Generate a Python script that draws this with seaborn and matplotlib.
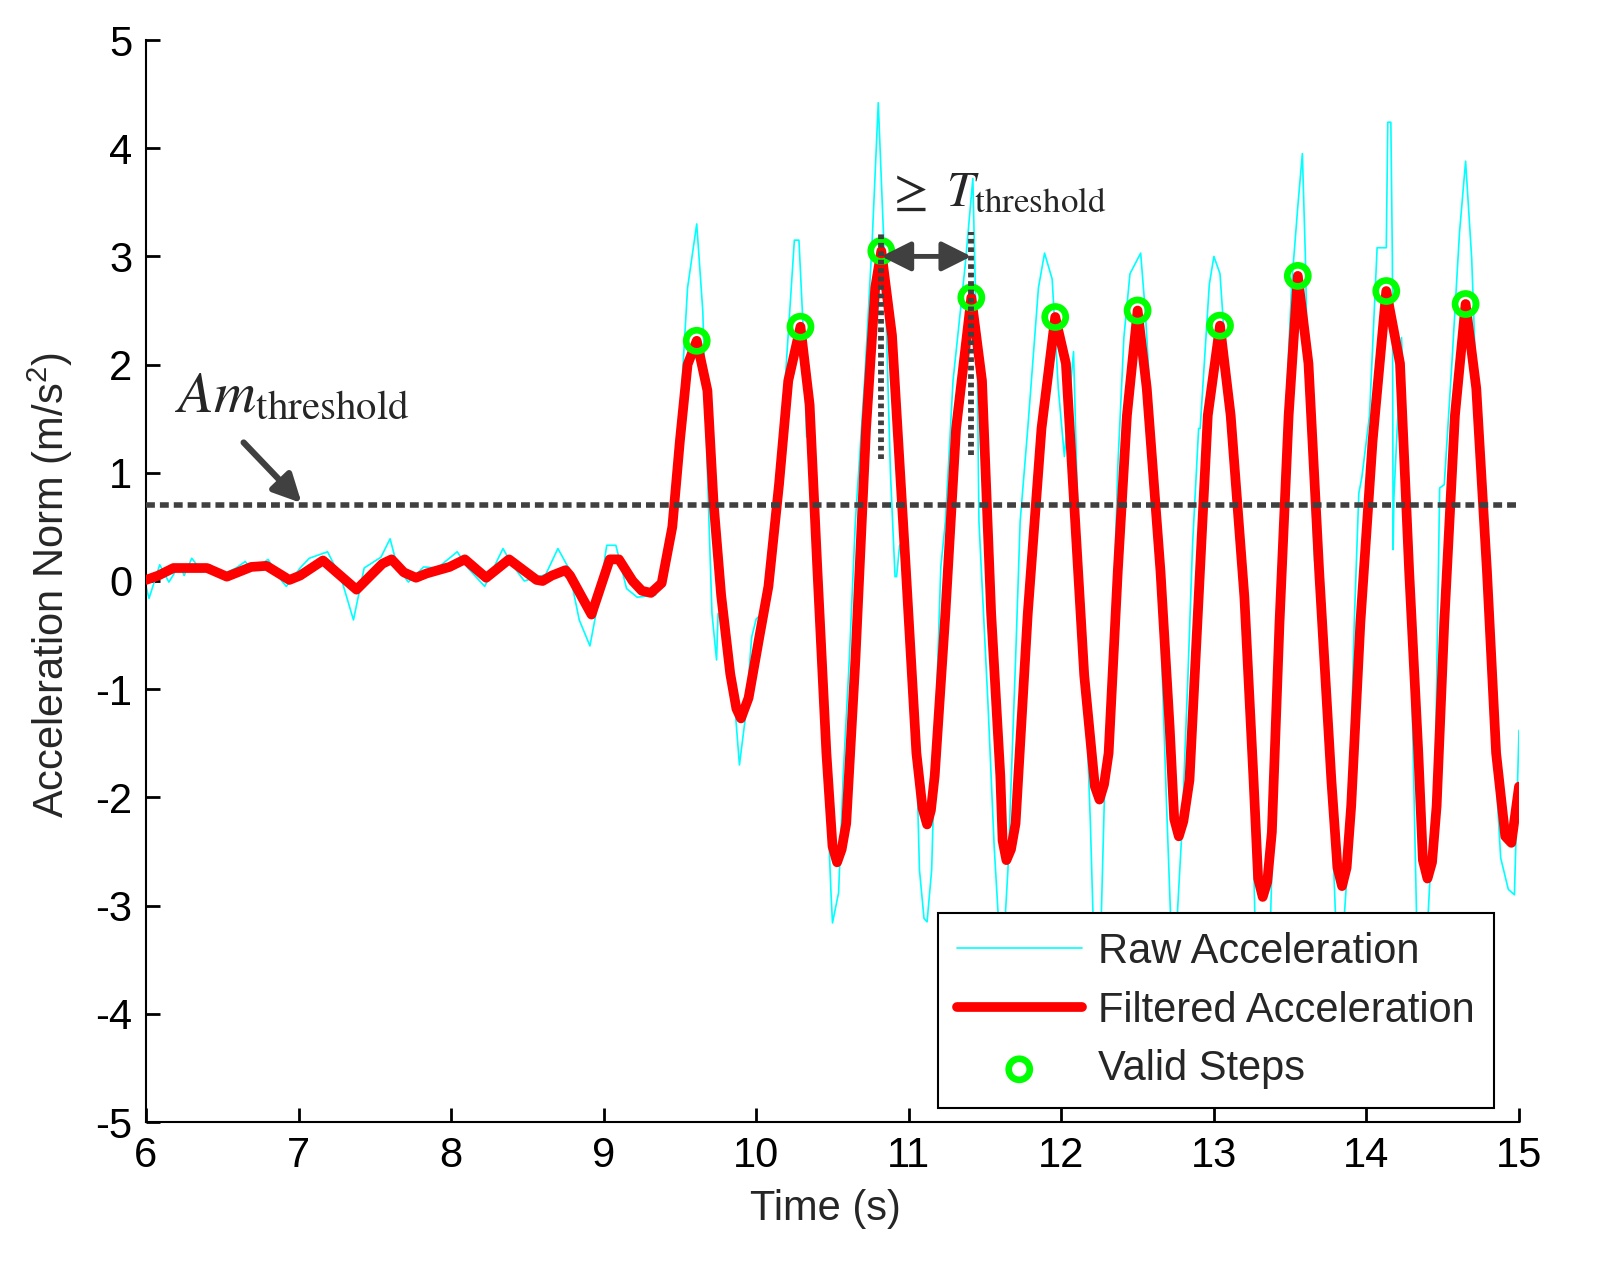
import matplotlib
matplotlib.use("Agg")
import matplotlib.pyplot as plt
import numpy as np
import pandas as pd
import seaborn as sns

# ---------------- data ----------------
filt_t = [6.00, 6.08, 6.18, 6.40, 6.53, 6.69, 6.79, 6.94, 7.01, 7.16, 7.38, 7.55, 7.61, 7.69,
          7.77, 7.84, 7.99, 8.09, 8.23, 8.38, 8.56, 8.60, 8.66, 8.75, 8.78, 8.92, 9.04, 9.10,
          9.19, 9.25, 9.31, 9.38, 9.45, 9.50, 9.55, 9.61, 9.68, 9.72, 9.77, 9.83, 9.87, 9.90, 9.95,
          10.02, 10.08, 10.15, 10.21, 10.29, 10.35, 10.40, 10.46, 10.50, 10.53, 10.56, 10.59, 10.65,
          10.72, 10.78, 10.82, 10.89, 10.98, 11.05, 11.09, 11.12, 11.145, 11.17, 11.24, 11.31,
          11.41, 11.48, 11.54, 11.60, 11.615, 11.64, 11.67, 11.70, 11.78, 11.87, 11.96, 12.03,
          12.09, 12.15, 12.22, 12.25, 12.28, 12.31, 12.37, 12.43, 12.50, 12.56, 12.65, 12.71,
          12.74, 12.77, 12.80, 12.84, 12.90, 12.96, 13.04, 13.11, 13.20, 13.26, 13.29, 13.32,
          13.35, 13.38, 13.43, 13.49, 13.55, 13.62, 13.69, 13.77, 13.81, 13.84, 13.87, 13.90,
          13.96, 14.04, 14.13, 14.22, 14.28, 14.34, 14.37, 14.40, 14.43, 14.46, 14.51, 14.58,
          14.65, 14.72, 14.79, 14.85, 14.91, 14.95, 15.00]
filt_v = [0.01, 0.05, 0.12, 0.12, 0.04, 0.13, 0.14, 0.01, 0.05, 0.19, -0.08, 0.16, 0.20, 0.08,
          0.03, 0.07, 0.13, 0.20, 0.03, 0.20, 0.01, 0.00, 0.05, 0.10, 0.05, -0.31, 0.20, 0.20,
          0.00, -0.09, -0.11, -0.02, 0.50, 1.30, 2.00, 2.22, 1.76, 0.73, -0.13, -0.86, -1.18, -1.27, -1.08,
          -0.52, -0.05, 0.90, 1.85, 2.35, 1.63, 0.13, -1.59, -2.45, -2.60, -2.48, -2.24, -0.73,
          1.41, 2.71, 3.05, 2.27, 0.13, -1.59, -2.10, -2.25, -2.12, -1.80, -0.30, 1.41,
          2.62, 1.85, -0.30, -1.80, -2.40, -2.58, -2.48, -2.24, -0.30, 1.41, 2.44, 2.01,
          0.57, -0.87, -1.90, -2.02, -1.88, -1.59, 0.09, 1.53, 2.50, 1.78, 0.09, -1.35,
          -2.20, -2.36, -2.22, -1.84, -0.15, 1.53, 2.36, 1.53, -0.15, -1.84, -2.75, -2.92,
          -2.78, -2.32, -0.39, 1.53, 2.82, 2.01, 0.09, -1.84, -2.65, -2.82, -2.65, -2.08,
          -0.39, 1.29, 2.68, 2.01, 0.09, -1.59, -2.58, -2.75, -2.60, -2.08, -0.39, 1.53,
          2.56, 1.78, 0.09, -1.59, -2.36, -2.42, -1.90]

raw_t = [6.00, 6.02, 6.09, 6.15, 6.22, 6.25, 6.30, 6.35, 6.42, 6.50, 6.59, 6.65, 6.70, 6.80,
         6.89, 6.92, 7.01, 7.07, 7.19, 7.28, 7.36, 7.43, 7.54, 7.60, 7.65, 7.72, 7.82, 7.91,
         8.04, 8.11, 8.22, 8.34, 8.40, 8.48, 8.55, 8.62, 8.70, 8.77, 8.84, 8.91, 8.97, 9.02,
         9.08, 9.15, 9.22, 9.34, 9.41, 9.47, 9.55, 9.61, 9.65, 9.68, 9.71, 9.74, 9.75, 9.81,
         9.86, 9.89, 9.93, 9.97, 10.00, 10.04, 10.10, 10.15, 10.19, 10.25, 10.28, 10.31, 10.33,
         10.35, 10.38, 10.42, 10.46, 10.49, 10.50, 10.54, 10.57, 10.61, 10.65, 10.71, 10.76,
         10.80, 10.84, 10.88, 10.91, 10.92, 10.94, 10.98, 11.01, 11.05, 11.07, 11.10, 11.12,
         11.15, 11.18, 11.21, 11.24, 11.29, 11.37, 11.42, 11.45, 11.46, 11.49, 11.52, 11.56,
         11.59, 11.62, 11.65, 11.70, 11.73, 11.78, 11.85, 11.89, 11.94, 11.98, 12.02, 12.08,
         12.10, 12.13, 12.14, 12.19, 12.21, 12.24, 12.26, 12.29, 12.34, 12.37, 12.41, 12.45,
         12.52, 12.55, 12.59, 12.65, 12.69, 12.72, 12.75, 12.79, 12.83, 12.86, 12.90, 12.91,
         12.97, 13.00, 13.04, 13.08, 13.10, 13.11, 13.17, 13.22, 13.25, 13.27, 13.32, 13.37,
         13.40, 13.43, 13.47, 13.51, 13.55, 13.58, 13.60, 13.62, 13.66, 13.67, 13.73, 13.77,
         13.80, 13.83, 13.85, 13.88, 13.92, 13.95, 13.97, 14.02, 14.07, 14.13, 14.14, 14.16,
         14.17, 14.175, 14.18, 14.23, 14.25, 14.28, 14.31, 14.33, 14.37, 14.40, 14.45, 14.48,
         14.51, 14.56, 14.61, 14.65, 14.69, 14.72, 14.75, 14.79, 14.84, 14.88, 14.93, 14.97,
         15.00]
raw_v = [-0.05, -0.16, 0.15, -0.01, 0.15, 0.05, 0.21, 0.12, 0.15, 0.06, 0.12, 0.18, 0.10, 0.20,
         0.00, -0.05, 0.12, 0.21, 0.27, 0.02, -0.36, 0.12, 0.22, 0.39, 0.12, -0.01, 0.13, 0.12,
         0.27, 0.12, -0.05, 0.30, 0.15, 0.00, 0.03, 0.06, 0.30, 0.12, -0.36, -0.60, -0.15, 0.33,
         0.33, -0.07, -0.15, -0.13, 0.13, 0.78, 2.71, 3.30, 2.49, 0.99, -0.30, -0.73, -0.30, -0.52,
         -1.16, -1.70, -1.25, -0.52, -0.35, -0.30, 0.13, 0.99, 1.85, 3.15, 3.15, 2.27, 1.33,
         1.33, 0.13, -0.73, -1.80, -2.88, -3.16, -2.88, -1.80, -0.73, 0.55, 1.85, 3.14,
         4.42, 3.00, 0.99, 0.04, 0.04, 0.33, 0.38, -0.30, -1.59, -2.67, -3.12, -3.15,
         -2.67, -1.16, 0.13, 0.55, 1.85, 2.92, 3.72, 1.85, 0.55, -0.30, -1.16, -2.46,
         -3.18, -3.40, -2.67, -0.73, 0.55, 1.41, 2.71, 3.03, 2.79, 1.78, 1.15, 2.12,
         1.05, -0.32, -0.32, -2.22, -3.20, -3.40, -3.20, -1.59, -0.39, 1.05, 2.25, 2.84,
         3.03, 2.50, 1.53, -0.39, -2.08, -3.25, -3.35, -2.32, -0.87, 0.33, 1.41, 1.41,
         2.74, 3.00, 2.84, 2.01, 1.27, 1.27, 0.57, -0.39, -1.84, -3.20, -3.50, -3.20,
         -1.59, 0.09, 1.53, 2.74, 3.46, 3.95, 2.98, 1.53, 0.18, 0.18, -0.87, -2.08,
         -3.20, -3.40, -3.20, -2.56, -0.39, 0.81, 0.96, 1.53, 3.08, 3.08, 4.24, 4.24,
         2.98, 0.29, 0.77, 2.25, 1.53, 0.09, -1.84, -3.20, -3.40, -3.20, -1.84, 0.86,
         0.89, 2.01, 3.22, 3.88, 2.98, 1.78, 1.05, -0.39, -1.59, -2.56, -2.85, -2.90,
         -1.38]

step_t = [9.61, 10.29, 10.82, 11.41, 11.96, 12.50, 13.04, 13.55, 14.13, 14.65]
step_v = [2.22, 2.35, 3.05, 2.62, 2.44, 2.50, 2.36, 2.82, 2.68, 2.56]

am_threshold = 0.7
t_gap = [10.82, 11.41]

xticks = [6, 7, 8, 9, 10, 11, 12, 13, 14, 15]
yticks = [-5, -4, -3, -2, -1, 0, 1, 2, 3, 4, 5]

# ---------------- style ----------------
sns.set_style("ticks")
plt.rcParams["font.family"] = ["Liberation Sans", "DejaVu Sans"]
plt.rcParams["axes.unicode_minus"] = False
plt.rcParams["mathtext.fontset"] = "custom"
plt.rcParams["mathtext.rm"] = "Liberation Sans"
plt.rcParams["mathtext.it"] = "Liberation Sans:italic"
plt.rcParams["mathtext.bf"] = "Liberation Sans:bold"

raw_df = pd.DataFrame({"t": raw_t, "v": raw_v})
filt_df = pd.DataFrame({"t": filt_t, "v": filt_v})
step_df = pd.DataFrame({"t": step_t, "v": step_v})

fig = plt.figure(figsize=(16.09, 12.88), dpi=100)
ax = fig.add_axes([146 / 1609, 166 / 1288, 1373 / 1609, 1082 / 1288])

sns.lineplot(data=raw_df, x="t", y="v", ax=ax, color="#00FFFF", linewidth=1.2,
             sort=False, estimator=None, label="Raw Acceleration", zorder=2)
sns.lineplot(data=filt_df, x="t", y="v", ax=ax, color="#FF0000", linewidth=7.0,
             sort=False, estimator=None, label="Filtered Acceleration", zorder=3)
sns.scatterplot(data=step_df, x="t", y="v", ax=ax, marker="o", s=230,
                facecolor="none", edgecolor="#00FF00", linewidth=4.8,
                label="Valid Steps", zorder=4)

gray = "#404040"
ax.axhline(am_threshold, color=gray, linewidth=4.0, linestyle=(0, (1.6, 0.9)),
           dash_capstyle="butt", zorder=6)
for tg, y0, y1 in zip(t_gap, [1.13, 1.16], [3.21, 3.23]):
    ax.plot([tg, tg], [y0, y1], color=gray, linewidth=4.2,
            linestyle=(0, (0.8, 0.65)), dash_capstyle="butt", zorder=6)

ax.annotate("", xy=(t_gap[1], 3.0), xytext=(t_gap[0], 3.0),
            arrowprops=dict(arrowstyle="<|-|>", color=gray, lw=3.5,
                            mutation_scale=45, shrinkA=0, shrinkB=0), zorder=7)
ax.annotate("", xy=(7.02, 0.72), xytext=(6.64, 1.28),
            arrowprops=dict(arrowstyle="-|>", color=gray, lw=4.5,
                            mutation_scale=42, shrinkA=0, shrinkB=0), zorder=7)

ax.text(6.19, 1.56, r"$Am_{\mathrm{threshold}}$", fontsize=42,
        math_fontfamily="stix", ha="left", va="baseline", zorder=8)
ax.text(10.85, 3.47, r"$\geq\ T_{\mathrm{threshold}}$", fontsize=36,
        math_fontfamily="stix", ha="left", va="baseline", zorder=8)

ax.set_xlim(6, 15)
ax.set_ylim(-5, 5)
ax.set_xticks(xticks)
ax.set_yticks(yticks)
ax.set_xticklabels([str(v) for v in xticks])
ax.set_yticklabels([str(v) for v in yticks])
ax.tick_params(direction="in", length=10, width=2, labelsize=30, pad=10,
               colors="black")

for s in ["top", "right"]:
    ax.spines[s].set_visible(False)
for s in ["left", "bottom"]:
    ax.spines[s].set_color("black")
    ax.spines[s].set_linewidth(1.5)

ax.set_xlabel("Time (s)", fontsize=30)
ax.set_ylabel("Acceleration Norm (m/s$^{2}$)", fontsize=30)
ax.xaxis.set_label_coords(0.495, -0.062)
ax.yaxis.set_label_coords(-0.052, 0.496)

leg = ax.legend(loc="upper left", bbox_to_anchor=((938 - 146) / 1373, (1122 - 913) / 1082),
                borderaxespad=0, fontsize=30, frameon=True, fancybox=False,
                framealpha=1, edgecolor="black", handlelength=3.0,
                handletextpad=0.4, borderpad=0.45, labelspacing=0.45,
                scatterpoints=1)
leg.get_frame().set_linewidth(1.5)
leg.set_zorder(10)

fig.savefig("out.png", dpi=100, facecolor="white")
